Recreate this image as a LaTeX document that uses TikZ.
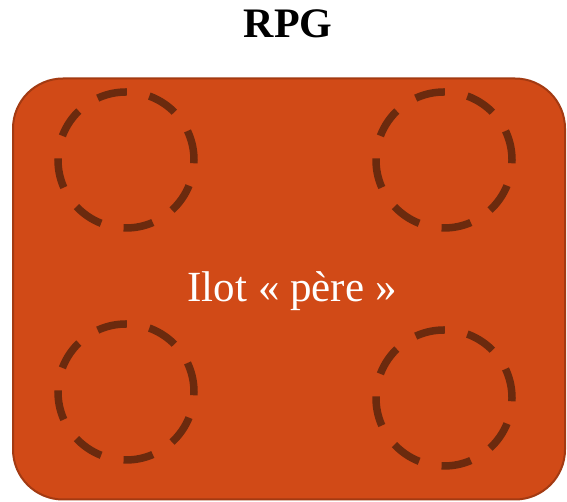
\documentclass[tikz,border=0pt]{standalone}
\usepackage{fontspec}
\setmainfont{Liberation Serif}
\definecolor{rpgfill}{HTML}{D14A17}
\definecolor{rpgedge}{HTML}{A33A12}
\definecolor{holecol}{HTML}{6B2A0E}
\begin{document}
\begin{tikzpicture}[x=1pt,y=1pt,
  hole/.style={draw=holecol,line width=7.5pt,dash pattern=on 30pt off 23pt,circle,minimum size=136pt,inner sep=0pt}]
\useasboundingbox (0,0) rectangle (567,502);
\node[font=\bfseries\fontsize{42}{46}\selectfont,anchor=base] (title) at (288,464) {RPG};
\node[draw=rpgedge,fill=rpgfill,line width=2pt,rounded corners=50pt,minimum width=552pt,minimum height=421pt,inner sep=0pt] (ilot) at (289,213) {};
\node[text=white,font=\fontsize{43}{47}\selectfont,anchor=base] (lbl) at (292,200) {Ilot « père »};
\node[hole] (c1) at (126,342) {};
\node[hole] (c2) at (444,342) {};
\node[hole] (c3) at (126,110) {};
\node[hole] (c4) at (444,104) {};
\end{tikzpicture}
\end{document}
